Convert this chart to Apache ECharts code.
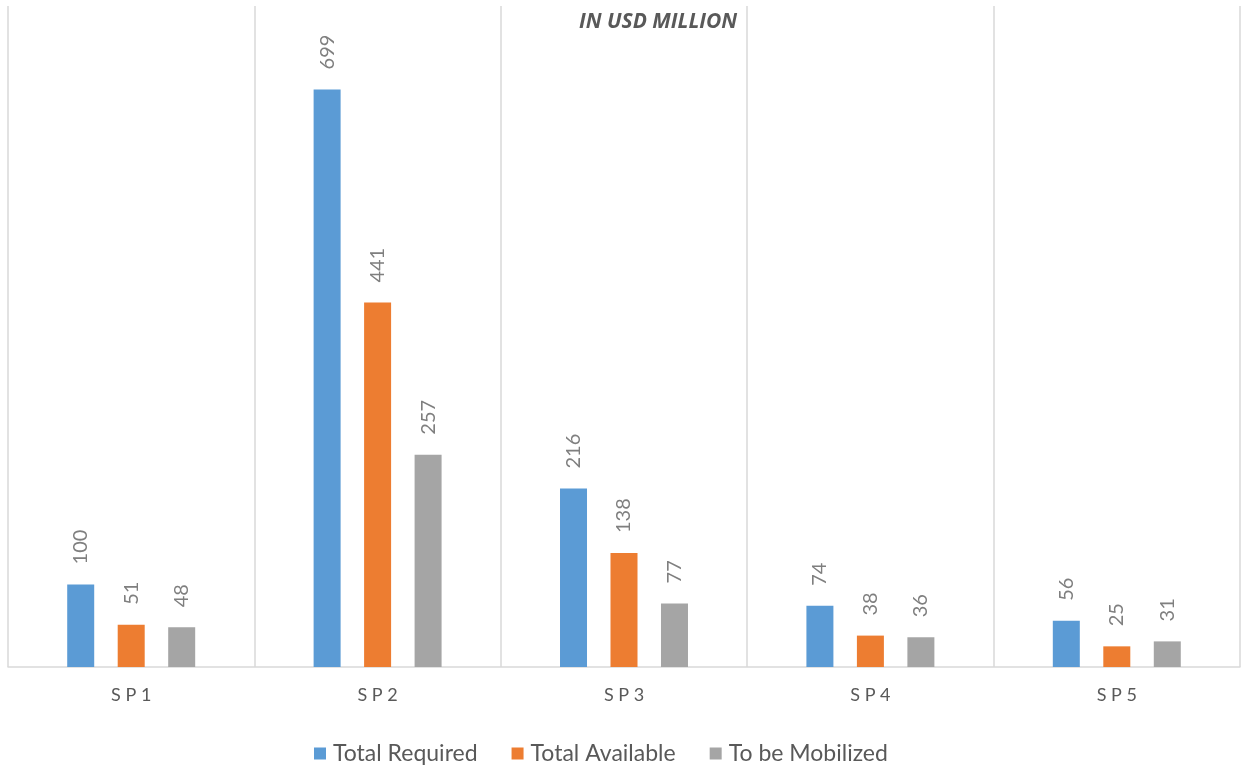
<!DOCTYPE html>
<html>
<head>
<meta charset="utf-8">
<script src="https://cdn.jsdelivr.net/npm/echarts@6/dist/echarts.min.js"></script>
<style>
html,body{margin:0;padding:0;background:#fff;}
#chart{width:1243px;height:769px;}
</style>
</head>
<body>
<div id="chart"></div>
<script>
const categories = ['SP1', 'SP2', 'SP3', 'SP4', 'SP5'];
const totalRequired = [100, 699, 216, 74, 56];
const totalAvailable = [51, 441, 138, 38, 25];
const toBeMobilized = [48, 257, 77, 36, 31];
const seriesNames = ['Total Required', 'Total Available', 'To be Mobilized'];
const colors = ['#5B9BD5', '#ED7D31', '#A5A5A5'];

const FONT = 'Lato, "Open Sans", sans-serif';
const labelCfg = {
  show: true,
  position: 'top',
  distance: 20,
  rotate: 90,
  align: 'left',
  verticalAlign: 'middle',
  color: '#7F7F7F',
  fontSize: 20,
  fontFamily: FONT
};

function bar(name, data, color) {
  return {
    name: name,
    type: 'bar',
    data: data,
    barWidth: 27,
    barGap: '87%',
    itemStyle: { color: color },
    label: labelCfg
  };
}

const chart = echarts.init(document.getElementById('chart'), null, { renderer: 'canvas' });
chart.setOption({
  animation: false,
  color: colors,
  title: {
    text: 'IN USD MILLION',
    left: 574,
    top: 7,
    textStyle: {
      fontFamily: '"Open Sans", sans-serif',
      fontStyle: 'italic',
      fontWeight: 'bold',
      fontSize: 21,
      color: '#595959'
    }
  },
  legend: {
    bottom: 4,
    padding: 0,
    left: 314,
    itemWidth: 12,
    itemHeight: 12,
    itemGap: 34,
    icon: 'rect',
    textStyle: { fontFamily: FONT, fontSize: 23, color: '#595959', padding: [0, 0, 0, 2] },
    data: seriesNames
  },
  grid: { left: 8, right: 3, top: 6, bottom: 102, containLabel: false },
  xAxis: {
    type: 'category',
    data: categories,
    axisLine: { lineStyle: { color: '#D9D9D9', width: 1.5 } },
    axisTick: { show: false },
    axisLabel: {
      margin: 19,
      fontFamily: FONT,
      fontSize: 18,
      color: '#595959',
      formatter: v => v.split('').join(' ')
    },
    splitLine: { show: true, lineStyle: { color: '#D9D9D9', width: 1.5 } }
  },
  yAxis: {
    type: 'value',
    min: 0,
    max: 800,
    show: false,
    splitLine: { show: false }
  },
  series: [
    bar(seriesNames[0], totalRequired, colors[0]),
    bar(seriesNames[1], totalAvailable, colors[1]),
    bar(seriesNames[2], toBeMobilized, colors[2])
  ]
});
</script>
</body>
</html>
